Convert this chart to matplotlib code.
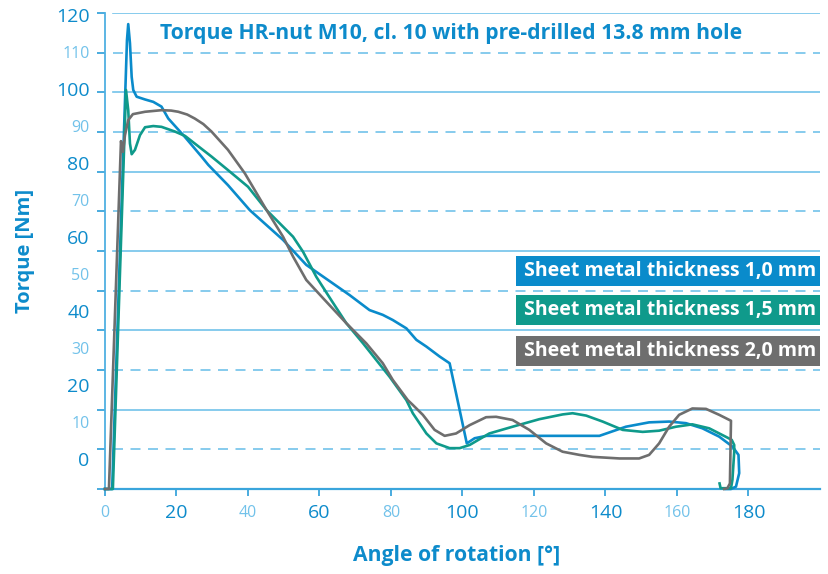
import matplotlib
matplotlib.use('Agg')
import matplotlib.pyplot as plt
from matplotlib.patches import Rectangle

plt.rcParams['font.family'] = ['Open Sans', 'DejaVu Sans']

# angle of rotation [deg] and torque [Nm]
blueX = [0, 2.0, 5.6, 6.15, 6.5, 6.98, 7.46, 7.9, 8.85, 11.2, 13.5, 15.8, 17.7, 22.3, 27.0,
         28.9, 34.4, 40.5, 49.8, 56.3, 68.4, 74.0, 77.7, 80.5, 84.3, 87.1, 89.9, 93.6, 96.4,
         101.2, 103.4, 106.7, 138.3, 145.7, 152.2, 157.8, 162.5, 167.1, 171.8, 175.5, 177.2,
         177.4, 176.5, 175.1, 173.7]
blueY = [0, 0, 98.1, 113.2, 117.2, 112.4, 103.9, 100.6, 98.9, 98.2, 97.6, 96.4, 93.4, 88.8, 83.8,
         81.7, 76.6, 70.3, 62.8, 56.5, 48.9, 45.1, 43.9, 42.6, 40.5, 37.6, 35.9, 33.4, 31.7,
         11.5, 12.8, 13.4, 13.4, 15.7, 16.8, 17.0, 16.6, 15.3, 13.2, 10.7, 8.6,
         4.0, 0.6, 0, 0]

tealX = [0, 2.2, 5.87, 6.5, 6.98, 7.46, 8.38, 9.78, 11.2, 13.5, 15.8, 19.6, 22.4, 25.1, 29.8,
         34.4, 40.0, 45.2, 52.6, 55.4, 59.1, 63.3, 67.5, 72.2, 75.9, 79.6, 84.3, 86.1, 89.9,
         92.7, 96.4, 99.2, 102.0, 107.5, 114.0, 121.5, 128.0, 130.8, 134.6, 139.2, 144.8,
         150.4, 155.0, 159.7, 164.3, 169.0, 172.7, 175.3, 176.0, 176.0, 175.5, 175.1, 172.2,
         171.9]
tealY = [0, 0, 100.6, 95.5, 87.1, 84.4, 85.5, 89.2, 91.2, 91.5, 91.3, 90.1, 89.0, 87.1, 83.8,
         80.4, 76.2, 70.3, 63.6, 59.8, 53.5, 47.6, 41.8, 36.7, 32.5, 28.3, 22.4, 19.1, 14.0,
         11.5, 10.3, 10.3, 11.1, 14.0, 15.7, 17.6, 18.8, 19.1, 18.5, 17.0, 14.9,
         14.4, 14.7, 15.7, 16.3, 15.3, 13.6, 12.4, 11.1, 9.3, 2.3, 0.2, 0.2,
         1.4]

grayX = [0, 1.1, 4.47, 5.03, 5.59, 6.5, 7.8, 11.2, 15.8, 18.5, 20.5, 23.0, 25.1, 27.5, 29.8,
         34.4, 39.1, 45.2, 49.8, 52.6, 56.3, 61.0, 67.5, 73.1, 77.7, 80.5, 84.7, 86.1, 88.9,
         92.2, 95.0, 98.2, 102.0, 106.6, 109.4, 114.0, 118.7, 123.4, 128.0, 132.7, 136.4,
         143.9, 149.4, 152.2, 155.0, 157.8, 160.6, 164.3, 168.1, 171.8, 175.1, 174.8, 174.1,
         173.2]
grayY = [0, 0, 87.7, 85.0, 89.2, 93.0, 94.5, 95.1, 95.5, 95.4, 95.1, 94.4, 93.4, 92.0, 90.1,
         85.5, 79.6, 70.3, 63.6, 58.6, 52.7, 48.1, 41.8, 36.7, 31.7, 27.5, 22.4, 21.2, 18.7,
         14.9, 13.4, 14.0, 16.1, 18.1, 18.2, 17.4, 14.9, 11.5, 9.4, 8.6, 8.1,
         7.7, 7.7, 8.6, 11.5, 15.7, 18.7, 20.3, 20.2, 18.7, 17.2, 1.4, 0.2,
         0]

seriesLabels = ['Sheet metal thickness 1,0 mm', 'Sheet metal thickness 1,5 mm',
                'Sheet metal thickness 2,0 mm']
seriesColors = ['#0a8bcb', '#0f9a8b', '#6e6e6e']

xTicks = list(range(0, 181, 20))
yTicks = list(range(0, 121, 10))

darkBlue = '#0d8bcb'
lightBlue = '#72c2ea'

fig = plt.figure(figsize=(8.29, 5.74), dpi=100)
ax = fig.add_axes([105 / 829, 1 - 489 / 574, 715 / 829, 476 / 574])
ax.set_xlim(0, 200)
ax.set_ylim(0, 120)

# grid: solid every 20, dashed in between, starting a little right of the axis
for v in yTicks[1:]:
    if v % 20 == 0:
        ax.axhline(v, xmin=0.011, color=lightBlue, lw=1.2, zorder=1)
    else:
        ax.axhline(v, xmin=0.011, color=lightBlue, lw=1.2, ls=(0, (6, 4.5)), zorder=1)

for xs, ys, c in zip([blueX, tealX, grayX], [blueY, tealY, grayY], seriesColors):
    ax.plot(xs, ys, color=c, lw=1.9, zorder=3, clip_on=False, solid_joinstyle='round')

for side in ['top', 'right']:
    ax.spines[side].set_visible(False)
ax.spines['left'].set_color('#4fb0e2')
ax.spines['bottom'].set_color('#3aa5dc')
ax.spines['left'].set_linewidth(1.3)
ax.spines['bottom'].set_linewidth(1.6)

# x ticks
ax.set_xticks(xTicks, labels=[str(v) for v in xTicks])
ax.tick_params(axis='x', which='major', length=5, width=1.3, color='#3aa5dc', pad=12)

# y: tick marks on the grid, labels on their own (offset) positions
ax.set_yticks(yTicks, labels=['' for v in yTicks])
ax.tick_params(axis='y', which='major', length=6, width=1.3, color='#3aa5dc')
yLabelPos = [7.56 + 0.9327 * v for v in yTicks]
ax.set_yticks(yLabelPos, labels=[str(v) for v in yTicks], minor=True)
ax.tick_params(axis='y', which='minor', length=0, pad=11)

for lab, v in zip(ax.get_xticklabels(), xTicks):
    lab.set_va('center')
    if v % 40 == 0:
        lab.set_fontsize(11.5)
        lab.set_color(lightBlue)
    else:
        lab.set_fontsize(14)
        lab.set_color(darkBlue)

for lab, v in zip(ax.get_yticklabels(minor=True), yTicks):
    if v % 20 == 0:
        lab.set_fontsize(14)
        lab.set_color(darkBlue)
    else:
        lab.set_fontsize(11.5)
        lab.set_color(lightBlue)

fig.text(160 / 829, 1 - 33 / 574, 'Torque HR-nut M10, cl. 10 with pre-drilled 13.8 mm hole',
         color=darkBlue, fontsize=15.2, fontweight='bold', ha='left', va='center')
fig.text(25 / 829, 1 - 251 / 574, 'Torque [Nm]', color=darkBlue, fontsize=14.5,
         fontweight='bold', rotation=90, ha='center', va='center')
fig.text(457 / 829, 1 - 555 / 574, 'Angle of rotation [°]', color=darkBlue, fontsize=15.2,
         fontweight='bold', ha='center', va='center')

# legend boxes on the right
boxTops = [256, 295, 336]
for top, lab, c in zip(boxTops, seriesLabels, seriesColors):
    fig.add_artist(Rectangle((516 / 829, 1 - (top + 30) / 574), 304 / 829, 30 / 574,
                             transform=fig.transFigure, facecolor=c, edgecolor='none'))
    fig.text(816 / 829, 1 - (top + 15) / 574, lab, color='white', fontsize=14,
             fontweight='bold', ha='right', va='center')

fig.savefig('out.png', dpi=100)
